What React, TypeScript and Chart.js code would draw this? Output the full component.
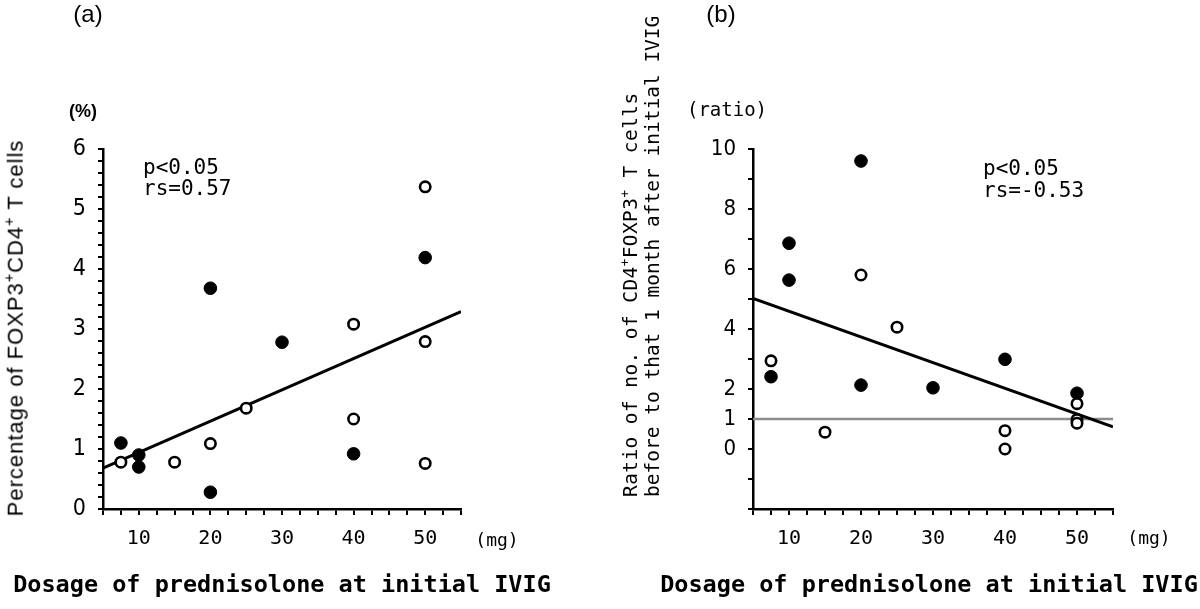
import React, { useEffect, useRef } from "react";
import { Chart, registerables } from "chart.js";

Chart.register(...registerables);

// ---------- data ----------
const doseLabels = [10, 20, 30, 40, 50];

// Panel (a): percentage of FOXP3+CD4+ T cells
const aFilledDose = [7.5, 10, 10, 20, 20, 30, 40, 50];
const aFilledPct = [1.1, 0.9, 0.7, 3.68, 0.28, 2.78, 0.92, 4.19];
const aOpenDose = [7.5, 15, 20, 25, 40, 40, 50, 50, 50];
const aOpenPct = [0.78, 0.78, 1.09, 1.68, 3.08, 1.5, 5.37, 2.79, 0.76];
const aFitDose = [5, 55];
const aFitPct = [0.68, 3.29];
const aYLabels = [0, 1, 2, 3, 4, 5, 6];

// Panel (b): ratio before / after 1 month
const bFilledDose = [7.5, 10, 10, 20, 20, 30, 40, 50];
const bFilledRatio = [2.41, 6.86, 5.63, 9.6, 2.13, 2.04, 2.99, 1.86];
const bOpenDose = [7.5, 15, 20, 25, 40, 40, 50, 50, 50];
const bOpenRatio = [2.94, 0.56, 5.8, 4.06, 0.61, 0, 1.51, 0.98, 0.86];
const bFitDose = [5, 55];
const bFitRatio = [5.02, 0.74];
const bRefDose = [5, 55];
const bRefRatio = [1, 1];
const bYLabels = [0, 1, 2, 4, 6, 8, 10];

const MONO = "'DejaVu Sans Mono', 'Liberation Mono', monospace";
const NARROW = "'Liberation Sans Narrow', 'DejaVu Sans Condensed', 'Liberation Sans', sans-serif";

const pts = (xs: number[], ys: number[]) => xs.map((x, i) => ({ x, y: ys[i] }));
const hasLabel = (list: number[], v: number) => list.some((l) => Math.abs(l - v) < 1e-6);

type PanelSpec = {
  filled: { x: number; y: number }[];
  open: { x: number; y: number }[];
  fit: { x: number; y: number }[];
  ref?: { x: number; y: number }[];
  yMin: number;
  yMax: number;
  yStep: number;
  yLabels: number[];
  yWidth: number;
  padRight: number;
  yFontSize: number;
};

function makeConfig(p: PanelSpec): any {
  const datasets: any[] = [
    {
      data: p.open,
      backgroundColor: "#ffffff",
      borderColor: "#000000",
      borderWidth: 2.6,
      pointRadius: 5.2,
    },
    {
      data: p.filled,
      backgroundColor: "#000000",
      borderColor: "#000000",
      borderWidth: 1,
      pointRadius: 6.3,
    },
    {
      data: p.fit,
      showLine: true,
      borderColor: "#000000",
      borderWidth: 3,
      pointRadius: 0,
      fill: false,
    },
  ];
  if (p.ref) {
    datasets.push({
      data: p.ref,
      showLine: true,
      borderColor: "#8c8c8c",
      borderWidth: 2.5,
      pointRadius: 0,
      fill: false,
    });
  }
  return {
    type: "scatter",
    data: { datasets },
    options: {
      animation: false,
      responsive: false,
      maintainAspectRatio: false,
      events: [],
      layout: { padding: { left: 0, top: 149, right: p.padRight, bottom: 0 } },
      plugins: { legend: { display: false }, tooltip: { enabled: false } },
      scales: {
        x: {
          type: "linear",
          min: 5,
          max: 55,
          afterFit: (s: any) => {
            s.height = 100;
          },
          ticks: {
            stepSize: 2.5,
            maxTicksLimit: 100,
            autoSkip: false,
            maxRotation: 0,
            minRotation: 0,
            padding: 12,
            color: "#000",
            font: { family: MONO, size: 20 },
            callback: (v: number) => (hasLabel(doseLabels, v) ? String(Math.round(v)) : ""),
          },
          grid: { drawOnChartArea: false, drawTicks: true, tickLength: 6, color: "#000", lineWidth: 2 },
          border: { display: true, color: "#000", width: 2.5 },
        },
        y: {
          type: "linear",
          min: p.yMin,
          max: p.yMax,
          afterFit: (s: any) => {
            s.width = p.yWidth;
          },
          ticks: {
            stepSize: p.yStep,
            maxTicksLimit: 100,
            autoSkip: false,
            padding: 12,
            color: "#000",
            font: { family: NARROW, size: p.yFontSize },
            callback: (v: number) => (hasLabel(p.yLabels, v) ? String(Math.round(v)) : ""),
          },
          grid: { drawOnChartArea: false, drawTicks: true, tickLength: 5, color: "#000", lineWidth: 2 },
          border: { display: true, color: "#000", width: 2.5 },
        },
      },
    },
  };
}

function Panel({ spec, left }: { spec: PanelSpec; left: number }) {
  const ref = useRef<HTMLCanvasElement | null>(null);
  useEffect(() => {
    if (!ref.current) return;
    const chart = new Chart(ref.current, makeConfig(spec));
    return () => chart.destroy();
  }, []);
  return (
    <canvas
      ref={ref}
      width={600}
      height={609}
      style={{ position: "absolute", left, top: 0, width: 600, height: 609 }}
    />
  );
}

function Txt({
  x,
  y,
  children,
  style,
  align = "center",
}: {
  x: number;
  y: number;
  children: any;
  style?: any;
  align?: "center" | "left";
}) {
  return (
    <div
      style={{
        position: "absolute",
        left: x,
        top: y,
        transform: align === "center" ? "translate(-50%, -50%)" : "translateY(-50%)",
        whiteSpace: "nowrap",
        lineHeight: 1,
        color: "#000",
        ...style,
      }}
    >
      {children}
    </div>
  );
}

const sup = (s: string) => (
  <span style={{ fontSize: "0.65em", verticalAlign: "0.6em" }}>{s}</span>
);

export default function App() {
  const specA: PanelSpec = {
    filled: pts(aFilledDose, aFilledPct),
    open: pts(aOpenDose, aOpenPct),
    fit: pts(aFitDose, aFitPct),
    yMin: 0,
    yMax: 6,
    yStep: 0.2,
    yLabels: aYLabels,
    yWidth: 103,
    padRight: 139,
    yFontSize: 23,
  };
  const specB: PanelSpec = {
    filled: pts(bFilledDose, bFilledRatio),
    open: pts(bOpenDose, bOpenRatio),
    fit: pts(bFitDose, bFitRatio),
    ref: pts(bRefDose, bRefRatio),
    yMin: -2,
    yMax: 10,
    yStep: 1,
    yLabels: bYLabels,
    yWidth: 153,
    padRight: 87,
    yFontSize: 22,
  };

  const mono = { fontFamily: MONO };
  return (
    <div style={{ position: "absolute", left: 0, top: 0, width: 1200, height: 609, background: "#fff", overflow: "hidden" }}>
      <Panel spec={specA} left={0} />
      <Panel spec={specB} left={600} />

      <Txt x={88} y={14} style={{ fontFamily: "'Liberation Sans', sans-serif", fontSize: 24 }}>(a)</Txt>
      <Txt x={721} y={14} style={{ fontFamily: "'Liberation Sans', sans-serif", fontSize: 24 }}>(b)</Txt>

      <Txt x={83} y={111} style={{ fontFamily: "'Liberation Sans', sans-serif", fontSize: 18, fontWeight: "bold" }}>(%)</Txt>
      <Txt x={727} y={109} style={{ ...mono, fontSize: 19 }}>(ratio)</Txt>

      <Txt x={497} y={540} style={{ ...mono, fontSize: 18 }}>(mg)</Txt>
      <Txt x={1149} y={538} style={{ ...mono, fontSize: 18 }}>(mg)</Txt>

      <Txt x={143} y={167} align="left" style={{ ...mono, fontSize: 21 }}>p&lt;0.05</Txt>
      <Txt x={143} y={188} align="left" style={{ ...mono, fontSize: 21 }}>rs=0.57</Txt>
      <Txt x={983} y={168} align="left" style={{ ...mono, fontSize: 21 }}>p&lt;0.05</Txt>
      <Txt x={983} y={190} align="left" style={{ ...mono, fontSize: 21 }}>rs=-0.53</Txt>

      <Txt x={282} y={585} style={{ ...mono, fontSize: 23.5, fontWeight: "bold" }}>
        Dosage of prednisolone at initial IVIG
      </Txt>
      <Txt x={929} y={585} style={{ ...mono, fontSize: 23.5, fontWeight: "bold" }}>
        Dosage of prednisolone at initial IVIG
      </Txt>

      <div
        style={{
          position: "absolute",
          left: 14,
          top: 328,
          transform: "translate(-50%, -50%) rotate(-90deg)",
          whiteSpace: "nowrap",
          lineHeight: 1,
          fontFamily: "'Liberation Sans', sans-serif",
          fontSize: 22,
          letterSpacing: 1,
          color: "#000",
        }}
      >
        Percentage of FOXP3{sup("+")}CD4{sup("+")} T cells
      </div>

      <div
        style={{
          position: "absolute",
          left: 619,
          top: 497,
          transform: "rotate(-90deg)",
          transformOrigin: "0 0",
          whiteSpace: "nowrap",
          lineHeight: 1,
          fontFamily: MONO,
          fontSize: 19.5,
          letterSpacing: 0.4,
          color: "#000",
        }}
      >
        Ratio of no. of CD4{sup("+")}FOXP3{sup("+")} T cells
      </div>
      <div
        style={{
          position: "absolute",
          left: 643,
          top: 497,
          transform: "rotate(-90deg)",
          transformOrigin: "0 0",
          whiteSpace: "nowrap",
          lineHeight: 1,
          fontFamily: MONO,
          fontSize: 19.5,
          color: "#000",
        }}
      >
        before to that 1 month after initial IVIG
      </div>
    </div>
  );
}
